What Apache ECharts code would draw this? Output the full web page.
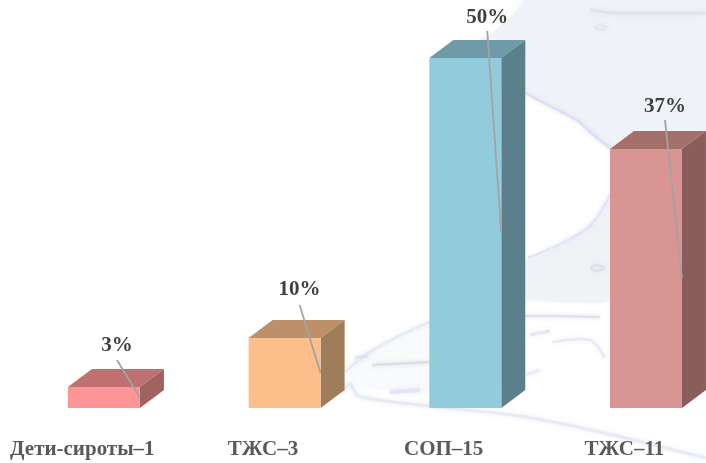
<!DOCTYPE html>
<html><head><meta charset="utf-8">
<style>html,body{margin:0;padding:0;background:#fff}#c{width:706px;height:463px;filter:blur(0.4px)}</style>
<script src="https://cdn.jsdelivr.net/npm/echarts@6/dist/echarts.min.js"></script>
</head><body><div id="c"></div>
<script>
const categories = ['Дети-сироты–1', 'ТЖС–3', 'СОП–15', 'ТЖС–11'];
const values = [3, 10, 50, 37];
const frontColors = ['#fd9597', '#fcbf8c', '#92cbdc', '#d99594'];
const topColors = ['#bf7070', '#bd9069', '#6f9aa8', '#a56f6c'];
const sideColors = ['#a06161', '#a07d5a', '#5c808b', '#8a5d5c'];
const labelDx = [13, 15, 22, 19];
const labelDy = [-41, -48, -40, -42];
const lineStartDy = [-27, -33, -27, -29];

// faint map behind the chart (decoration only)
const mapAreas = [
  {p:[[524,0],[514,14],[494,32],[470,45],[470,90],[525,93],[546,104],[578,121],[590,132],[612,150],[706,150],[706,0]], c:'#eff2f6'},
  {p:[[612,150],[706,150],[706,345],[612,300],[612,195]], c:'#eff2f6'},
  {p:[[526,262],[560,246],[590,226],[612,195],[612,300],[600,303],[560,302],[526,300]], c:'#eff3f6'},
  {p:[[345,385],[350,372],[365,355],[395,338],[429,322],[429,395]], c:'#f9fafc'}
];
const mapLines = [
  {p:[[525,93],[546,104],[578,121],[590,132],[610,148]], w:2.5, c:'#dcdaf2', o:0.8},
  {p:[[528,258],[560,244],[590,226],[610,195]], w:2.5, c:'#e2e1f4', o:0.8},
  {p:[[345,372],[365,355],[395,338],[429,322]], w:3, c:'#e4e8f0', o:0.8},
  {p:[[342,392],[350,384],[358,396],[429,406],[520,416],[600,432],[706,458]], w:3, c:'#e4e7f1', o:0.8},
  {p:[[372,365],[429,362]], w:2.5, c:'#d2d5e2', o:0.7},
  {p:[[355,358],[368,356]], w:3, c:'#dcdef0', o:0.7},
  {p:[[390,392],[420,390]], w:4, c:'#dee0f4', o:0.7},
  {p:[[525,316],[555,316],[600,317]], w:2.5, c:'#d6d9e8', o:0.7},
  {p:[[530,335],[550,331]], w:3, c:'#dee1f0', o:0.7},
  {p:[[552,342],[590,340],[605,358]], w:2.5, c:'#e2e4f4', o:0.7},
  {p:[[526,375],[540,370]], w:3, c:'#e4e7f4', o:0.7},
  {p:[[590,10],[615,13],[706,13]], w:3, c:'#dde0e8', o:0.8},
  {p:[[594,27],[600,25],[607,27],[600,30],[594,27]], w:1.5, c:'#dfe3ea', o:0.8},
  {p:[[590,268],[596,265],[604,268],[596,271],[590,268]], w:2, c:'#d8dde4', o:0.8}
];

const depthX = 24, depthY = 18, halfBar = 36, barShift = 21.6;

function renderBar(params, api) {
  const i = params.dataIndex;
  const base = api.coord([i, 0]);
  const head = api.coord([i, api.value(1)]);
  const l = base[0] + barShift - halfBar, r = base[0] + barShift + halfBar;
  const y0 = base[1], y1 = head[1];
  const poly = (pts, fill) => ({type: 'polygon', shape: {points: pts}, style: {fill: fill}});
  const sx = r, sy = (y0 + y1) / 2;
  const tx = base[0] + barShift + labelDx[i];
  const ty = y1 + labelDy[i];
  return {
    type: 'group',
    children: [
      poly([[l, y1], [r, y1], [r + depthX, y1 - depthY], [l + depthX, y1 - depthY]], topColors[i]),
      poly([[r, y0], [r, y1], [r + depthX, y1 - depthY], [r + depthX, y0 - depthY]], sideColors[i]),
      {type: 'rect', shape: {x: l, y: y1, width: r - l, height: y0 - y1}, style: {fill: frontColors[i]}},
      {type: 'line', shape: {x1: tx, y1: y1 + lineStartDy[i], x2: sx, y2: sy},
        style: {stroke: '#a3a3a3', lineWidth: 1.8}},
      {type: 'text', x: tx, y: ty, style: {text: api.value(1) + '%', fill: '#404040',
        font: 'bold 21px "Liberation Serif"', align: 'center', verticalAlign: 'middle'}}
    ]
  };
}

const bg = [];
mapAreas.forEach(a => bg.push({type: 'polygon', z: -10, silent: true, shape: {points: a.p},
  style: {fill: a.c, shadowBlur: 4, shadowColor: a.c}}));
mapLines.forEach(m => bg.push({type: 'polyline', z: -9, silent: true, shape: {points: m.p, smooth: 0.3},
  style: {stroke: m.c, lineWidth: m.w, fill: null, opacity: m.o, shadowBlur: 5, shadowColor: m.c}}));

const chart = echarts.init(document.getElementById('c'));
chart.setOption({
  animation: false,
  backgroundColor: '#ffffff',
  graphic: {elements: bg},
  grid: {left: -8, width: 722.7, top: 23, bottom: 55, containLabel: false, outerBoundsMode: 'none'},
  xAxis: {type: 'category', data: categories,
    axisLine: {show: false}, axisTick: {show: false},
    axisLabel: {interval: 0, margin: 31, color: '#595959', fontFamily: 'Liberation Serif',
      fontWeight: 'bold', fontSize: 21, hideOverlap: false}},
  yAxis: {type: 'value', min: 0, max: 55, show: false, splitLine: {show: false}},
  series: [{type: 'custom', renderItem: renderBar, clip: false, encode: {x: 0, y: 1},
    data: values.map((v, i) => [i, v])}]
});
</script></body></html>
